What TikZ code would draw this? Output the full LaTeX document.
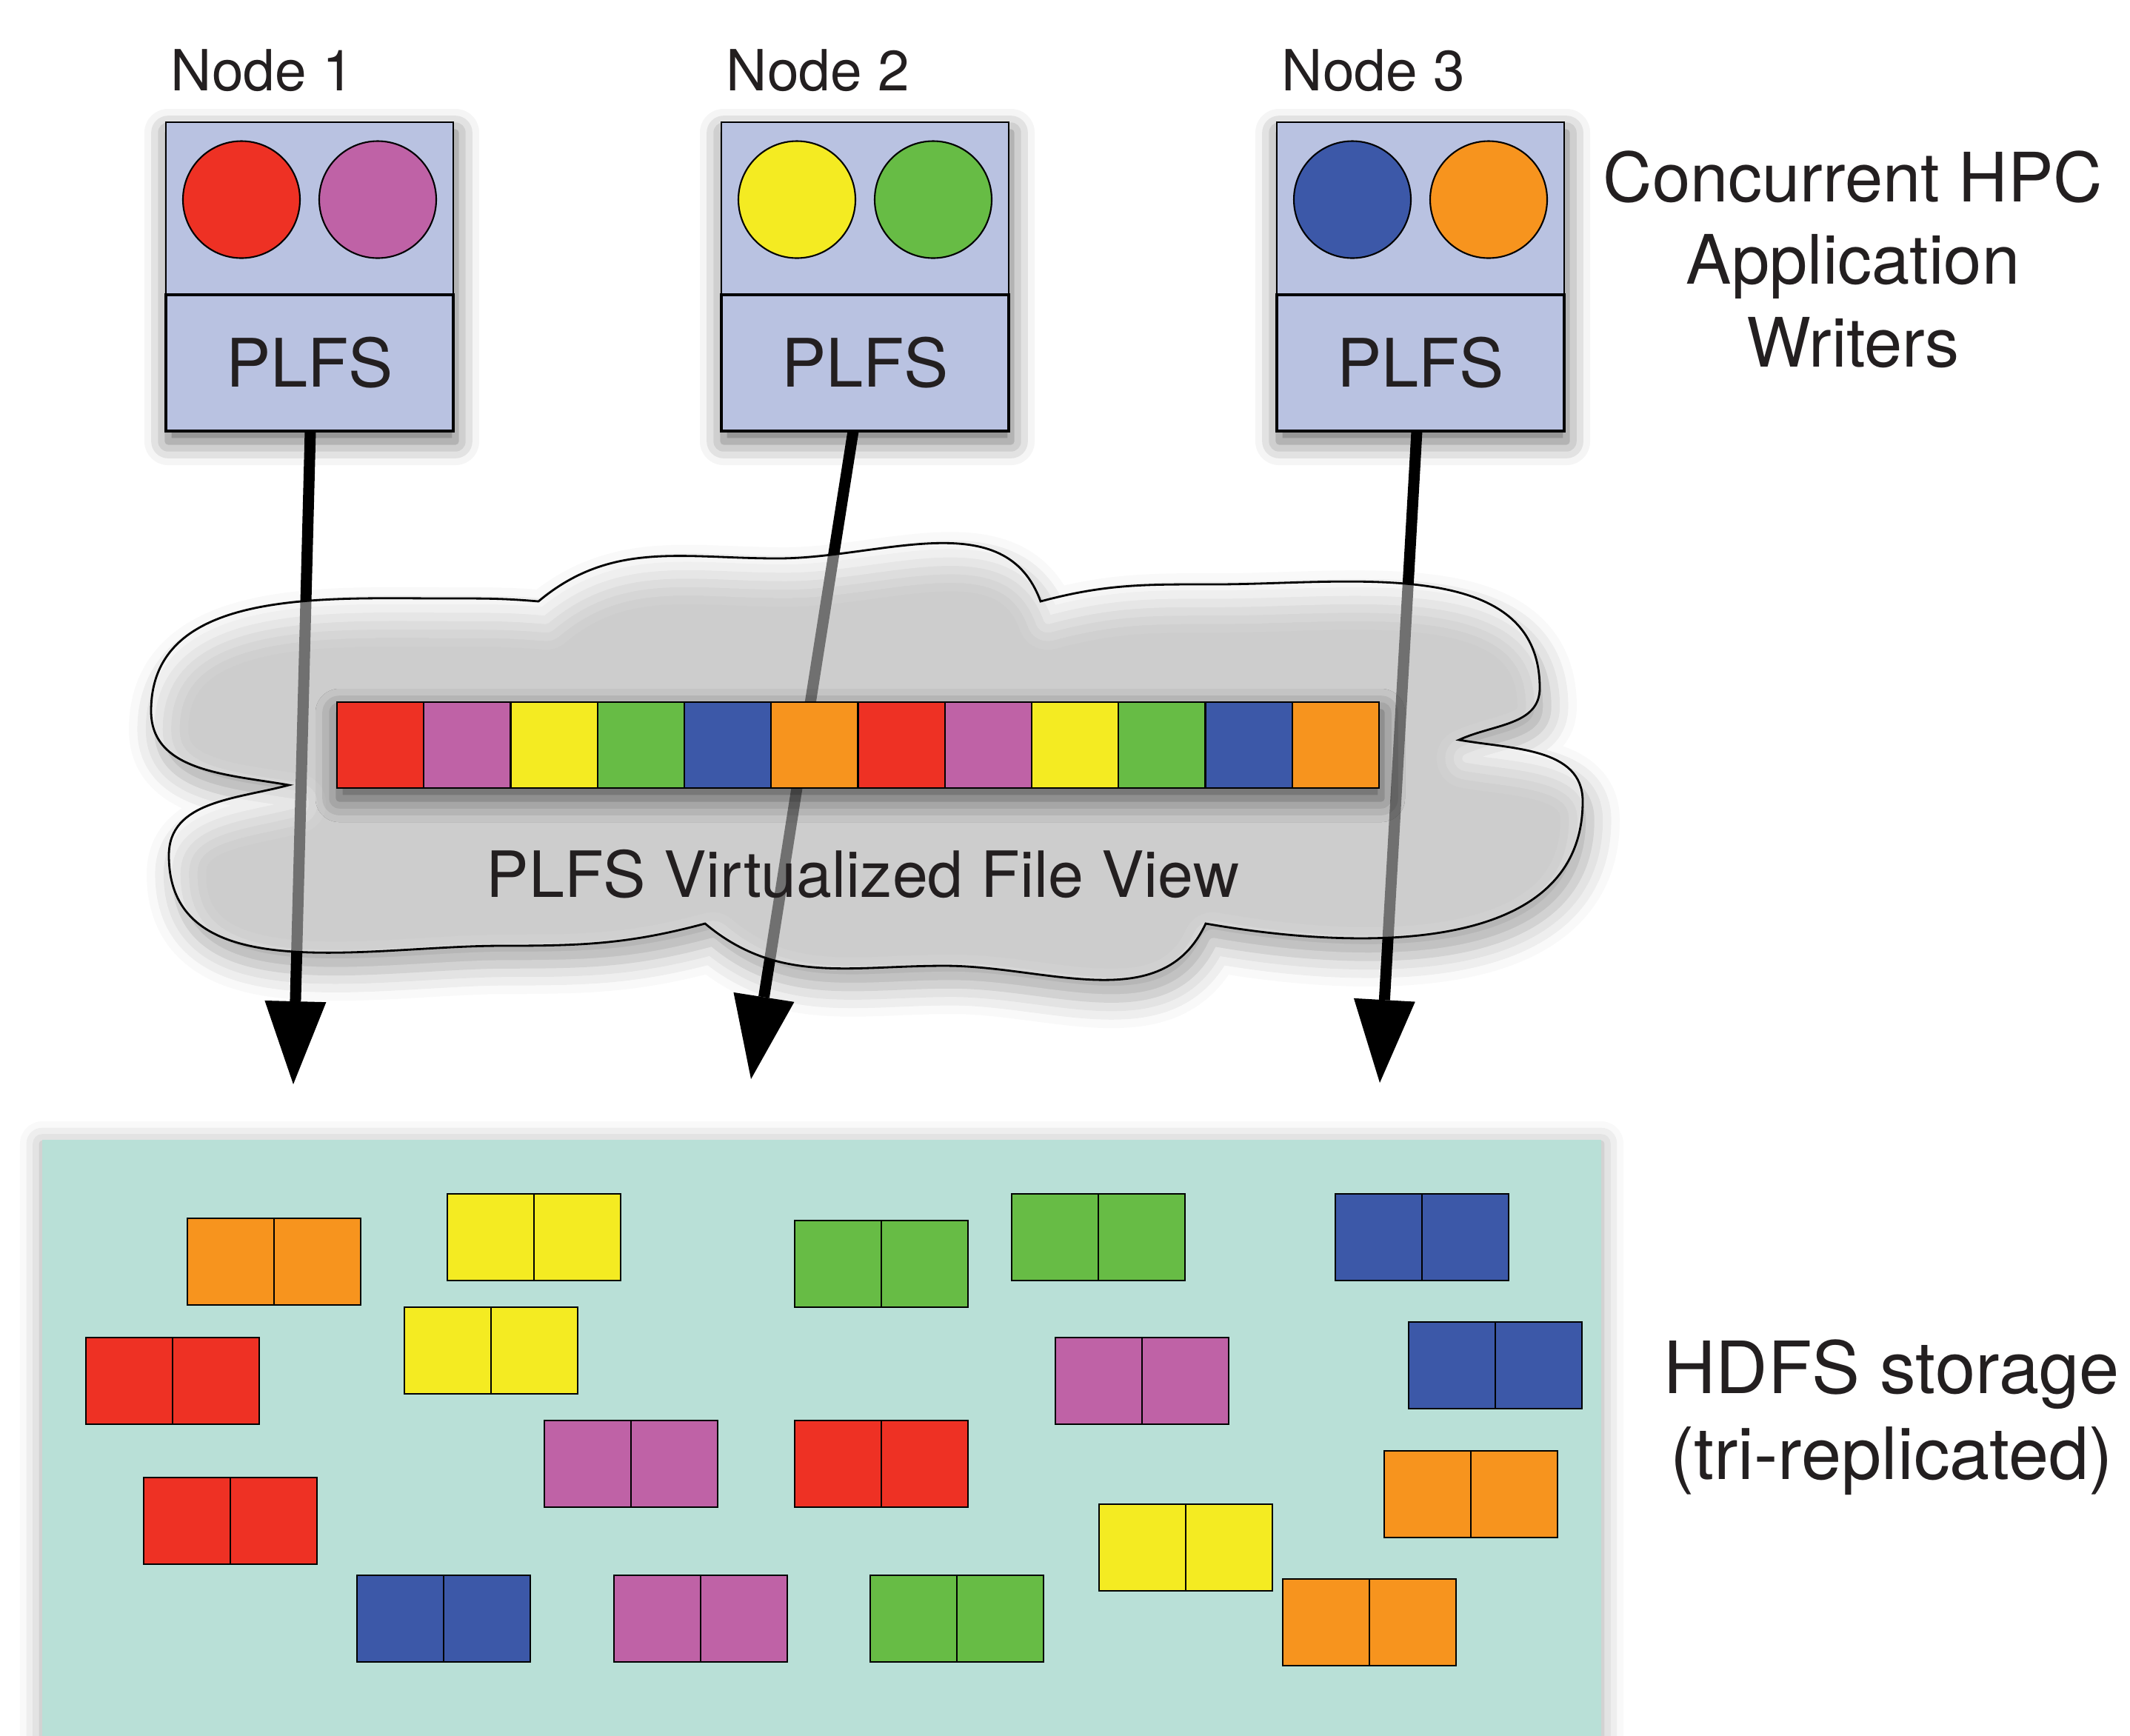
\documentclass[tikz,border=0pt]{standalone}
\usepackage{fontspec}
\setmainfont{TeX Gyre Heros}
\usetikzlibrary{positioning,arrows.meta,shadows.blur}

\definecolor{procred}{RGB}{238,49,36}
\definecolor{procpink}{RGB}{191,98,166}
\definecolor{procyellow}{RGB}{244,235,34}
\definecolor{procgreen}{RGB}{103,188,69}
\definecolor{procblue}{RGB}{60,88,168}
\definecolor{procorange}{RGB}{247,148,30}
\definecolor{nodefill}{RGB}{185,194,225}
\definecolor{hdfsfill}{RGB}{185,224,215}
\definecolor{inkdark}{RGB}{35,31,32}

\tikzset{
    procbox/.style = {draw, line width=0.6pt, fill=nodefill, minimum width=3.88cm,
        minimum height=2.33cm, inner sep=0pt, outer sep=0pt},
    plfsbox/.style = {draw, line width=1.2pt, fill=nodefill, minimum width=3.88cm,
        minimum height=1.84cm, inner sep=0pt, outer sep=0pt, text=inkdark,
        font=\fontsize{25.7}{30}\selectfont},
    proc/.style = {circle, draw, line width=0.6pt, minimum size=1.58cm, inner sep=0pt},
    cell/.style = {draw, line width=0.6pt, minimum width=1.17cm, minimum height=1.17cm,
        inner sep=0pt, outer sep=0pt},
    caption/.style = {text=inkdark, inner sep=0pt, align=center},
    writes/.style = {line width=0.15cm, draw=black, fill=black, opacity=1,
        -{Triangle[length=1.12cm,width=0.83cm,line width=0pt]}},
    softshadow/.style = {blur shadow={shadow xshift=0.03cm, shadow yshift=-0.14cm,
        shadow blur radius=0.32cm, shadow opacity=60}}
}

% outline of the virtual file view
\newcommand{\cloudoutline}{(3.90,-10.60) to[out=170,in=-90] (2.04,-9.60)
    to[out=90,in=180] (6.01,-8.08) to[out=0,in=175] (7.27,-8.12)
    to[out=40,in=180] (10.50,-7.54) to[out=0,in=110] (14.05,-8.12)
    to[out=15,in=180] (16.40,-7.89) to[out=0,in=90] (20.79,-9.29)
    to[out=-90,in=25] (19.70,-9.99) to[out=-10,in=90] (21.37,-10.82)
    to[out=-90,in=-10] (16.28,-12.47) to[out=-115,in=0] (12.75,-13.04)
    to[out=180,in=-40] (9.52,-12.47) to[out=-165,in=0] (6.77,-12.77)
    to[out=180,in=-90] (2.28,-11.55) to[out=90,in=195] (3.90,-10.60) -- cycle}

\begin{document}
\begin{tikzpicture}
    \useasboundingbox (0,0) rectangle (28.76,-23.43);

    % HDFS storage area
    \path[fill=hdfsfill, blur shadow={shadow xshift=0cm, shadow yshift=-0.05cm,
        shadow blur radius=0.3cm, shadow opacity=35}] (0.57,-15.39) rectangle (21.62,-24);
    \foreach \bx/\by/\bc [count=\i] in {2.53/16.45/procorange, 6.04/16.12/procyellow,
            10.73/16.48/procgreen, 13.66/16.12/procgreen, 18.03/16.12/procblue,
            1.16/18.06/procred, 5.46/17.65/procyellow, 14.25/18.06/procpink,
            19.02/17.85/procblue, 7.35/19.18/procpink, 10.73/19.18/procred,
            1.94/19.95/procred, 18.69/19.59/procorange, 14.84/20.31/procyellow,
            4.82/21.27/procblue, 8.29/21.27/procpink, 11.75/21.27/procgreen,
            17.32/21.32/procorange} {
        \node[cell, fill=\bc, anchor=north west] (blk\i a) at (\bx,-\by) {};
        \node[cell, fill=\bc, right=0pt of blk\i a] (blk\i b) {};
    }
    \node[caption, anchor=base, font=\fontsize{27.7}{33}\selectfont] (hdfslabel)
        at (25.54,-19.97) {HDFS storage\\(tri-replicated)};

    % compute nodes
    \foreach \cx/\ca/\cb [count=\i] in {4.18/procred/procpink,
            11.68/procyellow/procgreen, 19.18/procblue/procorange} {
        \path[softshadow] (\cx-1.94,-1.65) rectangle (\cx+1.94,-5.82);
        \node[procbox, anchor=north] (host\i) at (\cx,-1.65) {};
        \node[plfsbox, below=0pt of host\i] (plfs\i) {PLFS};
        \node[proc, fill=\ca] (p\i a) at ([xshift=-0.92cm, yshift=0.12cm]host\i.center) {};
        \node[proc, fill=\cb] (p\i b) at ([xshift=0.92cm, yshift=0.12cm]host\i.center) {};
        \node[caption, anchor=base west, font=\fontsize{21.8}{26}\selectfont] (name\i)
            at ([xshift=0.06cm, yshift=0.43cm]host\i.north west) {Node \i};
    }
    \node[caption, anchor=base, font=\fontsize{26.2}{31.6}\selectfont] (writers)
        at (25.02,-4.95) {Concurrent HPC\\Application\\Writers};

    % shadow of the virtual view sits under the arrows
    \path[blur shadow={shadow xshift=0.1cm, shadow yshift=-0.25cm,
        shadow blur radius=0.4cm, shadow opacity=35}] \cloudoutline;

    % writes go down to storage
    \coordinate (tip1) at (3.96,-14.64);
    \coordinate (tip2) at (10.14,-14.57);
    \coordinate (tip3) at (18.63,-14.62);
    \draw[writes] ([xshift=0.01cm]plfs1.south) -- (tip1);
    \draw[writes] ([xshift=-0.16cm]plfs2.south) -- (tip2);
    \draw[writes] ([xshift=-0.05cm]plfs3.south) -- (tip3);

    % virtual view
    \draw[line width=0.8pt, fill=white, fill opacity=0.44] \cloudoutline;
    \path[softshadow] (4.55,-9.48) rectangle (18.62,-10.64);
    \foreach \c [count=\k] in {procred, procpink, procyellow, procgreen, procblue,
            procorange, procred, procpink, procyellow, procgreen, procblue, procorange}
        \node[cell, fill=\c, minimum width=1.1725cm, minimum height=1.16cm,
            anchor=north west] (view\k) at ({4.55+(\k-1)*1.1725},-9.48) {};
    \node[caption, anchor=base, font=\fontsize{24.5}{29}\selectfont] (viewlabel)
        at (11.65,-12.11) {PLFS Virtualized File View};
\end{tikzpicture}
\end{document}
